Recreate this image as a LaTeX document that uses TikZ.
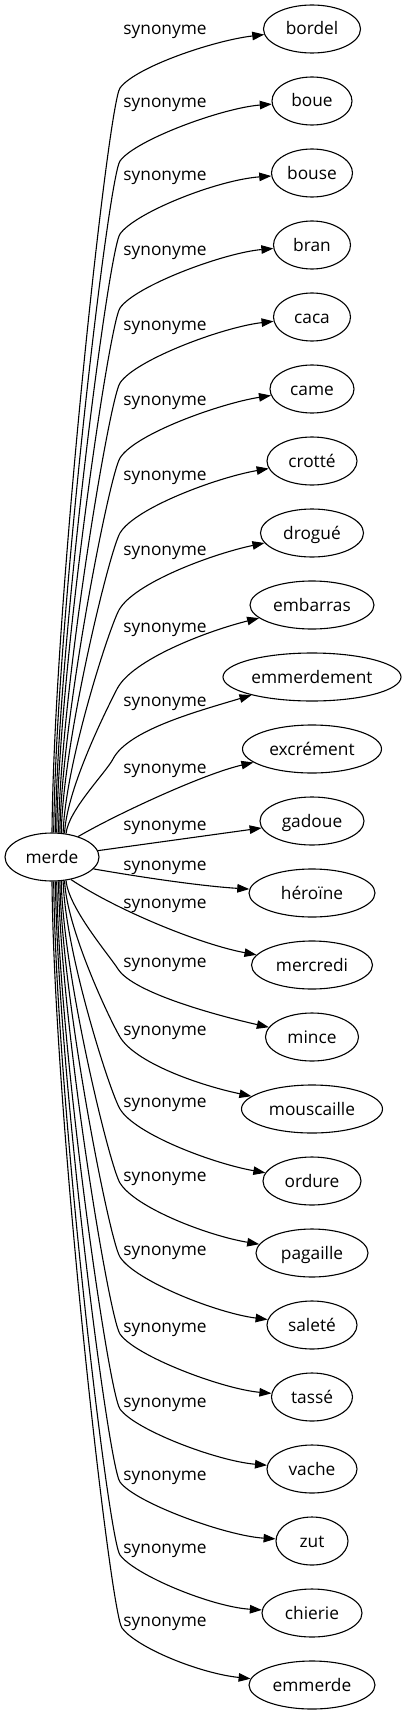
\documentclass[tikz,border=0pt]{standalone}
\usepackage{fontspec}
\setmainfont{Open Sans}
\usetikzlibrary{arrows.meta,shapes.geometric}
\tikzset{
  word/.style={ellipse, draw, line width=1.1pt, inner sep=0pt, minimum height=48pt,
    text height=13pt, text depth=1pt, text=black, font=\fontsize{17.3}{20}\selectfont},
  rel/.style={anchor=base, inner sep=0pt, text=black, font=\fontsize{17.3}{20}\selectfont},
  link/.style={draw, line width=1.1pt, -{Triangle[length=12pt,width=8.5pt]}},
}
\begin{document}
\begin{tikzpicture}[x=1pt,y=-1pt]
\useasboundingbox[fill=white] (0,0) rectangle (406,1715);
% nodes
\node[word, minimum width=94pt]  (merde)       at (52,857)  {merde};
\node[word, minimum width=97pt]  (bordel)      at (312,29)  {bordel};
\node[word, minimum width=80pt]  (boue)        at (312,101) {boue};
\node[word, minimum width=81pt]  (bouse)       at (312,173) {bouse};
\node[word, minimum width=77pt]  (bran)        at (312,245) {bran};
\node[word, minimum width=77pt]  (caca)        at (312,317) {caca};
\node[word, minimum width=84pt]  (came)        at (312,389) {came};
\node[word, minimum width=90pt]  (crotte)      at (312,461) {crotté};
\node[word, minimum width=103pt] (drogue)      at (312,533) {drogué};
\node[word, minimum width=124pt] (embarras)    at (312,605) {embarras};
\node[word, minimum width=178pt] (emmerdement) at (312,677) {emmerdement};
\node[word, minimum width=139pt] (excrement)   at (312,749) {excrément};
\node[word, minimum width=104pt] (gadoue)      at (312,821) {gadoue};
\node[word, minimum width=126pt] (heroine)     at (312,893) {héroïne};
\node[word, minimum width=121pt] (mercredi)    at (312,965) {mercredi};
\node[word, minimum width=93pt]  (mince)       at (312,1037) {mince};
\node[word, minimum width=141pt] (mouscaille)  at (312,1109) {mouscaille};
\node[word, minimum width=98pt]  (ordure)      at (312,1181) {ordure};
\node[word, minimum width=112pt] (pagaille)    at (312,1253) {pagaille};
\node[word, minimum width=90pt]  (salete)      at (312,1325) {saleté};
\node[word, minimum width=81pt]  (tasse)       at (312,1397) {tassé};
\node[word, minimum width=90pt]  (vache)       at (312,1469) {vache};
\node[word, minimum width=72pt]  (zut)         at (312,1541) {zut};
\node[word, minimum width=100pt] (chierie)     at (312,1613) {chierie};
\node[word, minimum width=126pt] (emmerde)     at (312,1685) {emmerde};
% labels
\node[rel] (l1)  at (165,35)   {synonyme};
\node[rel] (l2)  at (165,108)  {synonyme};
\node[rel] (l3)  at (165,181)  {synonyme};
\node[rel] (l4)  at (165,255)  {synonyme};
\node[rel] (l5)  at (165,330)  {synonyme};
\node[rel] (l6)  at (165,405)  {synonyme};
\node[rel] (l7)  at (165,480)  {synonyme};
\node[rel] (l8)  at (165,555)  {synonyme};
\node[rel] (l9)  at (165,632)  {synonyme};
\node[rel] (l10) at (165,706)  {synonyme};
\node[rel] (l11) at (165,773)  {synonyme};
\node[rel] (l12) at (165,830)  {synonyme};
\node[rel] (l13) at (165,870)  {synonyme};
\node[rel] (l14) at (165,908)  {synonyme};
\node[rel] (l15) at (165,967)  {synonyme};
\node[rel] (l16) at (165,1035) {synonyme};
\node[rel] (l17) at (165,1107) {synonyme};
\node[rel] (l18) at (165,1181) {synonyme};
\node[rel] (l19) at (165,1255) {synonyme};
\node[rel] (l20) at (165,1332) {synonyme};
\node[rel] (l21) at (165,1407) {synonyme};
\node[rel] (l22) at (165,1480) {synonyme};
\node[rel] (l23) at (165,1553) {synonyme};
\node[rel] (l24) at (165,1626) {synonyme};
% via points
\coordinate (v1) at (120,88);
\coordinate (v2) at (120,161);
\coordinate (v3) at (120,234);
\coordinate (v4) at (120,308);
\coordinate (v5) at (120,383);
\coordinate (v6) at (120,458);
\coordinate (v7) at (120,533);
\coordinate (v8) at (119,610);
\coordinate (v9) at (117,689);
\coordinate (v10) at (113,759);
\coordinate (v15) at (118,969);
\coordinate (v16) at (120,1037);
\coordinate (v17) at (120,1109);
\coordinate (v18) at (120,1183);
\coordinate (v19) at (120,1257);
\coordinate (v20) at (120,1334);
\coordinate (v21) at (120,1409);
\coordinate (v22) at (120,1482);
\coordinate (v23) at (120,1555);
\coordinate (v24) at (122,1628);
% upper edges
\path[link] (merde.90) .. controls +(2,-231) and +(-11.8,16.2) .. (v1) .. controls +(15,-20.7) and (213,40.6) .. (bordel);
\path[link] (merde.86.4) .. controls +(2,-208) and +(-11.6,16.3) .. (v2) .. controls +(15,-21) and (222,108) .. (boue);
\path[link] (merde.82.9) .. controls +(2,-186) and +(-11.5,16.4) .. (v3) .. controls +(15,-21.4) and (217,180) .. (bouse);
\path[link] (merde.79.3) .. controls +(2,-163) and +(-11.2,16.5) .. (v4) .. controls +(15,-22) and (223,253) .. (bran);
\path[link] (merde.75.9) .. controls +(2,-140) and +(-10.9,16.8) .. (v5) .. controls +(15,-23.1) and (223,327) .. (caca);
\path[link] (merde.72.4) .. controls +(2,-116) and +(-10.6,17) .. (v6) .. controls +(15,-24.2) and (220,403.5) .. (came);
\path[link] (merde.69.1) .. controls +(2,-93) and +(-10.2,17.2) .. (v7) .. controls +(15,-25.2) and (217,477.5) .. (crotte);
\path[link] (merde.65.8) .. controls +(2,-69) and +(-9.7,17.5) .. (v8) .. controls +(15,-27) and (212,554) .. (drogue);
\path[link] (merde.62.7) .. controls +(2,-45) and +(-9.1,17.8) .. (v9) .. controls +(15,-29.4) and (207,631) .. (embarras);
\path[link] (merde.59.6) .. controls +(2,-23) and +(-6.9,13.3) .. (v10) .. controls +(15,-28.7) and (195,712) .. (emmerdement);
% middle edges
\path[link] (merde.38) .. controls (115,815) and (203,774) .. (excrement);
\path[link] (merde) -- (gadoue);
\path[link] (merde.-16) .. controls (140,877) and (200,886) .. (heroine);
\path[link] (merde.-50) .. controls (120,912) and (203,945) .. (mercredi);
% lower edges
\path[link] (merde.-59.6) .. controls +(2,27) and +(-8,-12.7) .. (v15) .. controls +(15,23.8) and (217,1015.5) .. (mince);
\path[link] (merde.-62.7) .. controls +(2,48) and +(-10.2,-17.2) .. (v16) .. controls +(15,25.2) and (197,1084.7) .. (mouscaille);
\path[link] (merde.-65.8) .. controls +(2,71) and +(-10.2,-17.2) .. (v17) .. controls +(15,25.2) and (213,1163.5) .. (ordure);
\path[link] (merde.-69.1) .. controls +(2,94) and +(-10.4,-17.1) .. (v18) .. controls +(15,24.5) and (207,1235.5) .. (pagaille);
\path[link] (merde.-72.4) .. controls +(2,117) and +(-10.7,-16.9) .. (v19) .. controls +(15,23.8) and (217,1313.2) .. (salete);
\path[link] (merde.-75.9) .. controls +(2,140) and +(-11.2,-16.5) .. (v20) .. controls +(15,22) and (222,1388.9) .. (tasse);
\path[link] (merde.-79.3) .. controls +(2,164) and +(-11.6,-16.3) .. (v21) .. controls +(15,21) and (217,1461) .. (vache);
\path[link] (merde.-82.9) .. controls +(2,186) and +(-11.8,-16.2) .. (v22) .. controls +(15,20.7) and (226,1535.9) .. (zut);
\path[link] (merde.-86.4) .. controls +(2,209) and +(-11.9,-16.1) .. (v23) .. controls +(15,20.3) and (212,1606.9) .. (chierie);
\path[link] (merde.-90) .. controls +(2,232) and +(-12,-16) .. (v24) .. controls +(15,20) and (200,1673.4) .. (emmerde);
\end{tikzpicture}
\end{document}
